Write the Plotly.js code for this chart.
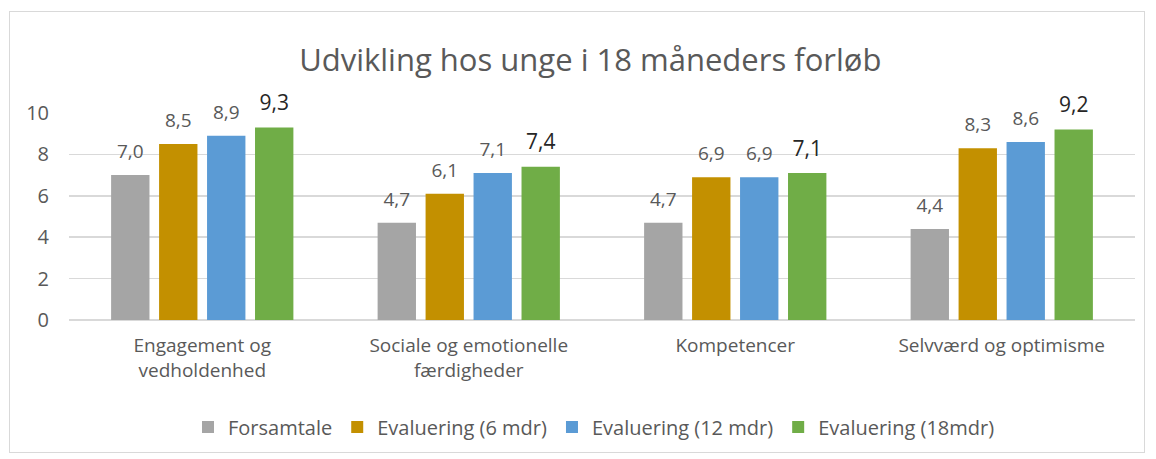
<!DOCTYPE html>
<html>
<head>
<meta charset="utf-8">
<script src="https://cdn.plot.ly/plotly-3.0.1.min.js"></script>
<style>
  html, body { margin: 0; padding: 0; background: #fff; }
  #wrap { position: relative; width: 1156px; height: 459px; }
  #chart { width: 1156px; height: 459px; }
  #frame { position: absolute; left: 9px; top: 11px; width: 1136px; height: 442px;
           border: 1.5px solid #d9d9d9; pointer-events: none; box-sizing: border-box; }
</style>
</head>
<body>
<div id="wrap">
  <div id="chart"></div>
  <div id="frame"></div>
</div>
<script>
const categories = [
  "Engagement og<br>vedholdenhed",
  "Sociale og emotionelle<br>færdigheder",
  "Kompetencer",
  "Selvværd og optimisme"
];
const seriesNames = ["Forsamtale", "Evaluering (6 mdr)", "Evaluering (12 mdr)", "Evaluering (18mdr)"];
const forsamtale = [7.0, 4.7, 4.7, 4.4];
const eval6 = [8.5, 6.1, 6.9, 8.3];
const eval12 = [8.9, 7.1, 6.9, 8.6];
const eval18 = [9.3, 7.4, 7.1, 9.2];
const yTicks = [0, 2, 4, 6, 8, 10];

const colors = ["#A5A5A5", "#C39000", "#5B9BD5", "#70AD47"];
const labelColors = ["#595959", "#595959", "#595959", "#262626"];
const labelSizes = [19, 19, 19, 21];
const allValues = [forsamtale, eval6, eval12, eval18];

const FONT = "Open Sans, sans-serif";

const barTraces = allValues.map((vals, i) => ({
  type: "bar",
  name: seriesNames[i],
  x: categories,
  y: vals,
  offsetgroup: "g" + i,
  marker: { color: colors[i] },
  textposition: "none",
  hoverinfo: "skip"
}));

// value labels, aligned to the grouped bars
const labelTraces = allValues.map((vals, i) => ({
  type: "scatter",
  mode: "markers+text",
  x: categories,
  y: vals,
  offsetgroup: "g" + i,
  showlegend: false,
  marker: { size: 18, color: "rgba(0,0,0,0)" },
  texttemplate: "%{y:.1f}",
  textposition: "top center",
  cliponaxis: false,
  textfont: { family: FONT, size: labelSizes[i], color: labelColors[i] },
  hoverinfo: "skip"
}));

const layout = {
  width: 1156,
  height: 459,
  separators: ",.",
  paper_bgcolor: "#ffffff",
  plot_bgcolor: "#ffffff",
  margin: { l: 69, r: 21, t: 113, b: 139 },
  font: { family: FONT, color: "#595959" },
  title: {
    text: "Udvikling hos unge i 18 måneders forløb",
    font: { family: FONT, size: 31, color: "#595959" },
    x: 0.489, xref: "paper", xanchor: "center",
    y: 0.87, yref: "container", yanchor: "middle"
  },
  barmode: "group",
  bargap: 0.28,
  bargroupgap: 0.2,
  scattermode: "group",
  scattergap: 0.28,
  xaxis: {
    showgrid: false,
    showline: false,
    zeroline: false,
    ticks: "",
    tickfont: { family: FONT, size: 19, color: "#595959" },
    ticklabelstandoff: 12
  },
  yaxis: {
    range: [0, 10],
    tickvals: yTicks,
    showgrid: true,
    gridcolor: "#d9d9d9",
    gridwidth: 1.5,
    zeroline: true,
    zerolinecolor: "#d9d9d9",
    zerolinewidth: 1.5,
    showline: false,
    ticks: "",
    tickfont: { family: FONT, size: 20, color: "#595959" },
    ticklabelstandoff: 19
  },
  showlegend: true,
  legend: {
    orientation: "h",
    x: 0.4925, xanchor: "center",
    y: -0.517, yanchor: "middle",
    font: { family: FONT, size: 20, color: "#595959" },
    itemwidth: 30,
    traceorder: "normal"
  }
};

Plotly.newPlot("chart", barTraces.concat(labelTraces), layout, { displayModeBar: false, staticPlot: true });
</script>
</body>
</html>
